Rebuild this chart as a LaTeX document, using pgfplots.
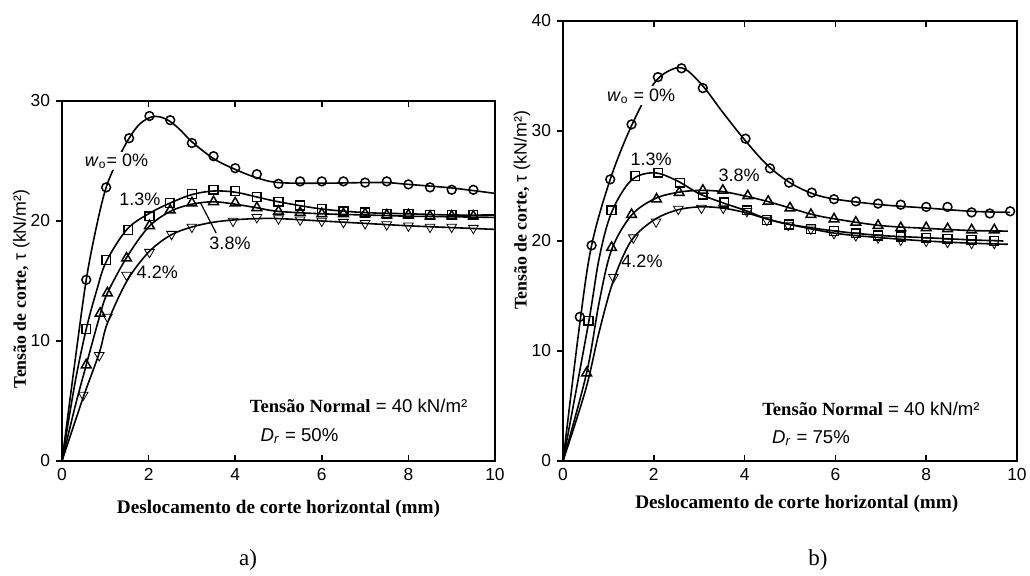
\documentclass[border=0pt]{standalone}
\usepackage{fontspec}
\setmainfont{Liberation Sans}
\newfontfamily\tnr{Liberation Serif}
\usepackage{pgfplots}
\pgfplotsset{compat=1.18}
\begin{document}
\begin{tikzpicture}
\useasboundingbox (0,0) rectangle (515pt,288pt);
\tikzset{
  lab/.style={font=\fontsize{9}{10}\selectfont, inner sep=1pt},
  ann/.style={anchor=west, inner sep=0pt, font=\fontsize{9.3}{10}\selectfont},
}
\pgfplotsset{
  panel/.style={
    scale only axis, xmin=0, xmax=10, ymin=0,
    axis line style={line width=1pt},
    xtick={0,2,...,10}, xtick pos=both, xtick align=inside,
    ytick pos=left, ytick align=outside,
    major tick length=3pt,
    every tick/.style={black, line width=0.8pt},
    tick label style={font=\fontsize{8.7}{10}\selectfont},
    yticklabel style={xshift=0.5pt},
    /pgf/number format/assume math mode=true,
    xlabel={\tnr\bfseries Deslocamento de corte horizontal (mm)},
    ylabel={{\tnr\bfseries Tensão de corte,} τ (kN/m²)},
    xlabel style={font=\fontsize{9.6}{10}\selectfont, anchor=center},
    ylabel style={font=\fontsize{8.9}{10}\selectfont, anchor=center},
    clip=false,
  },
  curve/.style={black, line width=0.8pt, smooth, no marks, tension=0.55},
  pts/.style={black, only marks, mark size=2.2pt, mark options={line width=0.75pt}},
  tri/.style={pts, mark=triangle, mark size=2.8pt},
  itri/.style={pts, mark=triangle, mark size=2.8pt, mark options={rotate=180}},
}
% ---------------- panel a ----------------
\begin{axis}[panel, at={(31pt,57.5pt)}, anchor=south west,
  width=216.5pt, height=180pt, ymax=30, ytick={0,10,20,30},
  xlabel style={at={(axis description cs:0.5,-0.133)}},
  ylabel style={at={(axis description cs:-0.094,0.478)}}]
% w0 = 0%
\addplot[curve] coordinates {(0,0) (0.3,8.3) (0.56,15.1) (0.8,19.6) (1.02,22.8) (1.3,25.2) (1.55,26.9) (1.8,28.1) (2.1,28.7) (2.4,28.5) (2.7,27.7) (3.0,26.6) (3.5,25.2) (4.0,24.3) (4.5,23.6) (5.0,23.2) (6,23.15) (7,23.2) (7.5,23.2) (8,23.05) (9,22.75) (10,22.3)};
\addplot[pts, mark=o] coordinates {(0.56,15.1) (1.02,22.8) (1.55,26.9) (2.02,28.75) (2.5,28.4) (3.0,26.5) (3.5,25.4) (4.0,24.4) (4.5,23.9) (5.0,23.1) (5.5,23.3) (6.0,23.3) (6.5,23.3) (7.0,23.2) (7.5,23.3) (8.0,23.05) (8.5,22.8) (9.0,22.6) (9.5,22.6)};
% 1.3%
\addplot[curve] coordinates {(0,0) (0.3,6.5) (0.56,11.0) (0.8,14.2) (1.02,16.6) (1.5,19.3) (2.0,20.6) (2.5,21.5) (3.0,22.2) (3.5,22.5) (4.0,22.4) (4.5,22.0) (5.0,21.6) (6,21.0) (7,20.7) (8,20.6) (9,20.5) (10,20.5)};
\addplot[pts, mark=square] coordinates {(0.56,11.0) (1.02,16.75) (1.53,19.25) (2.02,20.4) (2.49,21.5) (3.0,22.25) (3.5,22.6) (4.0,22.5) (4.5,22.0) (5.0,21.6) (5.5,21.3) (6.0,21.0) (6.5,20.8) (7.0,20.7) (7.5,20.6) (8.0,20.6) (8.5,20.5) (9.0,20.5) (9.5,20.5)};
% 3.8%
\addplot[curve] coordinates {(0,0) (0.3,4.5) (0.56,8.0) (0.88,12.2) (1.05,14.0) (1.5,17.0) (2.0,19.5) (2.5,20.8) (3.0,21.4) (3.5,21.6) (4.0,21.4) (4.5,21.1) (5,20.8) (6,20.6) (7,20.5) (8,20.4) (9,20.35) (10,20.3)};
\addplot[tri] coordinates {(0.56,8.0) (0.88,12.3) (1.05,14.0) (1.49,16.9) (2.02,19.6) (2.5,20.9) (3.0,21.5) (3.5,21.6) (4.0,21.5) (4.5,21.1) (5.0,20.8) (5.5,20.7) (6.0,20.6) (6.5,20.6) (7.0,20.6) (7.5,20.5) (8.0,20.5) (8.5,20.4) (9.0,20.4) (9.5,20.4)};
% 4.2%
\addplot[curve] coordinates {(0,0) (0.49,5.3) (0.86,9.0) (1.05,11.5) (1.5,15.0) (2.0,17.4) (2.5,18.8) (3.0,19.5) (3.5,19.9) (4.0,20.1) (4.5,20.2) (5,20.2) (6,20.0) (7,19.8) (8,19.6) (9,19.45) (10,19.3)};
\addplot[itri] coordinates {(0.49,5.5) (0.86,8.8) (1.05,12.0) (1.49,15.5) (2.02,17.4) (2.53,18.9) (3.0,19.5) (3.95,20.0) (4.5,20.3) (5.0,20.2) (5.5,20.1) (6.0,20.0) (6.5,19.9) (7.0,19.8) (7.5,19.7) (8.0,19.6) (8.5,19.5) (9.0,19.5) (9.5,19.4)};
\node[lab, fill=white] at (axis cs:1.26,25.0) {\textit{w}\textsubscript{o}= 0\%};
\node[lab] at (axis cs:1.8,21.8) {1.3\%};
\node[lab] at (axis cs:3.88,18.1) {3.8\%};
\draw[black, line width=0.6pt] (axis cs:3.56,19.0) -- (axis cs:3.2,21.5);
\node[lab] at (axis cs:2.2,15.7) {4.2\%};
\node[ann] at (axis cs:4.33,4.6) {{\tnr\bfseries Tensão Normal} = 40 kN/m²};
\node[ann] at (axis cs:4.58,2.1) {\textit{D}\textsubscript{\textit{r}} = 50\%};
\end{axis}
% ---------------- panel b ----------------
\begin{axis}[panel, at={(281.5pt,57.5pt)}, anchor=south west,
  width=227pt, height=220pt, ymax=40, ytick={0,10,20,30,40},
  xlabel style={at={(axis description cs:0.515,-0.098)}},
  ylabel style={at={(axis description cs:-0.09,0.57)}}]
% 0%
\addplot[curve] coordinates {(0,0) (0.37,12.5) (0.63,19.6) (1.04,25.6) (1.5,30.4) (2.0,34.3) (2.4,35.6) (2.7,35.6) (3.1,34.0) (3.5,31.8) (4.0,29.2) (4.5,26.9) (5.0,25.3) (5.5,24.3) (6,23.8) (7,23.3) (8,23.0) (9,22.7) (9.85,22.6)};
\addplot[pts, mark=o] coordinates {(0.37,13.1) (0.63,19.6) (1.04,25.6) (1.51,30.6) (2.09,34.9) (2.61,35.7) (3.08,33.9) (4.02,29.3) (4.56,26.6) (4.98,25.3) (5.48,24.4) (5.97,23.8) (6.45,23.6) (6.94,23.4) (7.44,23.3) (8.0,23.1) (8.47,23.1) (9.0,22.6) (9.4,22.5) (9.85,22.7)};
% 1.3%
\addplot[curve] coordinates {(0,0) (0.56,12.5) (0.8,18.5) (1.07,22.6) (1.5,25.5) (2.0,26.2) (2.5,25.5) (3.0,24.3) (3.5,23.5) (4.0,22.8) (4.5,22.0) (5,21.5) (6,20.9) (7,20.5) (8,20.3) (9,20.1) (9.7,20.0)};
\addplot[pts, mark=square] coordinates {(0.56,12.75) (1.07,22.8) (1.59,25.9) (2.1,26.2) (2.58,25.3) (3.08,24.2) (3.55,23.5) (4.05,22.8) (4.49,21.9) (4.98,21.5) (5.46,21.1) (5.97,20.9) (6.45,20.7) (6.94,20.5) (7.44,20.4) (8.0,20.3) (8.47,20.2) (9.0,20.1) (9.5,20.0)};
% 3.8%
\addplot[curve] coordinates {(0,0) (0.52,8.0) (0.8,14.5) (1.07,19.2) (1.5,22.3) (2.0,23.8) (2.5,24.4) (3.0,24.6) (3.5,24.5) (4.0,24.1) (4.5,23.6) (5.0,23.0) (5.5,22.4) (6,22.0) (7,21.4) (8,21.15) (9,20.95) (9.8,20.9)};
\addplot[tri] coordinates {(0.52,8.0) (1.07,19.4) (1.51,22.4) (2.06,23.8) (2.56,24.4) (3.08,24.6) (3.52,24.6) (4.07,24.1) (4.52,23.6) (5.0,23.0) (5.46,22.4) (5.97,22.0) (6.45,21.7) (6.94,21.4) (7.44,21.2) (8.0,21.2) (8.47,21.1) (9.0,21.0) (9.5,21.0)};
% 4.2%
\addplot[curve] coordinates {(0,0) (0.5,6.5) (0.8,11.8) (1.11,16.4) (1.5,20.0) (2.0,21.9) (2.5,22.8) (3.0,23.1) (3.5,23.0) (4.0,22.6) (4.5,22.0) (5,21.5) (6,20.7) (7,20.3) (8,20.0) (9,19.8) (9.8,19.7)};
\addplot[itri] coordinates {(1.11,16.7) (1.55,20.3) (2.05,21.75) (2.54,22.9) (3.05,23.0) (3.53,23.0) (4.05,22.7) (4.49,21.9) (4.96,21.45) (5.46,21.1) (5.97,20.7) (6.45,20.5) (6.94,20.3) (7.44,20.1) (8.0,20.0) (8.47,19.9) (9.0,19.8) (9.5,19.8)};
\node[lab, fill=white] at (axis cs:1.72,33.2) {\textit{w}\textsubscript{o} = 0\%};
\node[lab] at (axis cs:1.94,27.4) {1.3\%};
\node[lab] at (axis cs:3.88,26.0) {3.8\%};
\node[lab] at (axis cs:1.74,18.2) {4.2\%};
\node[ann] at (axis cs:4.38,4.7) {{\tnr\bfseries Tensão Normal} = 40 kN/m²};
\node[ann] at (axis cs:4.6,2.1) {\textit{D}\textsubscript{\textit{r}} = 75\%};
\end{axis}
\node[font=\tnr\fontsize{11.5}{12}\selectfont] at (124pt,8pt) {a)};
\node[font=\tnr\fontsize{11.5}{12}\selectfont] at (409pt,8pt) {b)};
\end{tikzpicture}
\end{document}
